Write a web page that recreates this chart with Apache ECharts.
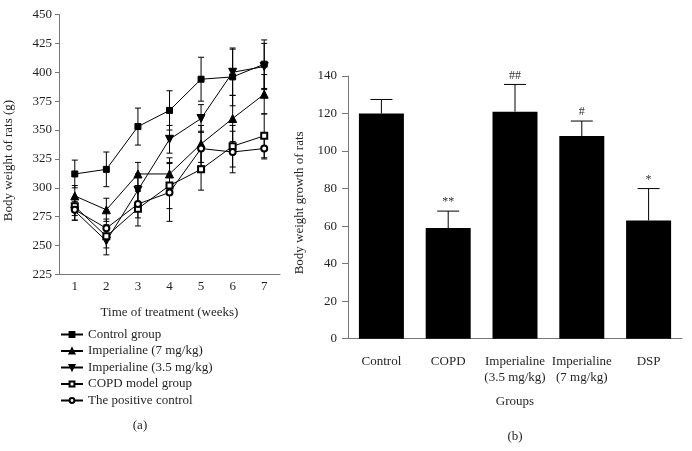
<!DOCTYPE html>
<html>
<head>
<meta charset="utf-8">
<script src="https://cdn.jsdelivr.net/npm/echarts@6/dist/echarts.min.js"></script>
<style>html,body{margin:0;padding:0;background:#fff}#c{width:692px;height:451px}</style>
</head>
<body>
<div id="c"></div>
<script>
// ---- Panel (a) data ----
const weeks = ['1', '2', '3', '4', '5', '6', '7'];
const seriesNames = ['Control group', 'Imperialine (7 mg/kg)', 'Imperialine (3.5 mg/kg)', 'COPD model group', 'The positive control'];
const controlMean = [312, 316, 353, 367, 394, 396, 407];
const controlSd   = [12, 15, 16, 17, 19, 25, 21];
const imp7Mean    = [293, 281, 312, 312, 338, 360, 381];
const imp7Sd      = [9, 10, 10, 14, 16, 20, 17];
const imp35Mean   = [280, 254, 298, 342, 360, 400, 405];
const imp35Sd     = [8, 12, 14, 12, 12, 20, 20];
const copdMean    = [284, 258, 282, 302, 316, 336, 345];
const copdSd      = [8, 10, 15, 20, 18, 18, 19];
const posMean     = [281, 265, 286, 296, 334, 331, 334];
const posSd       = [9, 8, 12, 25, 15, 18, 9];
const weightTicks = [225, 250, 275, 300, 325, 350, 375, 400, 425, 450];

// ---- Panel (b) data ----
const groups = ['Control', 'COPD', 'Imperialine\n(3.5 mg/kg)', 'Imperialine\n(7 mg/kg)', 'DSP'];
const growthMean = [120, 59, 121, 108, 63];
const growthSd   = [7.5, 9, 14.5, 8, 17];
const growthSig  = ['', '**', '##', '#', '*'];
const growthTicks = [0, 20, 40, 60, 80, 100, 120, 140];

const FONT = 'Liberation Serif';
const TXT = '#231f20';
const AX = '#777';

const means = [controlMean, imp7Mean, imp35Mean, copdMean, posMean];
const sds = [controlSd, imp7Sd, imp35Sd, copdSd, posSd];
const symbols = ['rect', 'triangle', 'path://M0,0L10,0L5,10Z', 'emptyRect', 'emptyCircle'];
const symSizes = [6, 8, 8, 6, 6];

function errRender(capHalf, topOnly) {
  return function (params, api) {
    const x = api.value(0), m = api.value(1), sd = api.value(2);
    const top = api.coord([x, m + sd]);
    const bot = topOnly ? api.coord([x, m]) : api.coord([x, m - sd]);
    const style = { stroke: '#000', lineWidth: 1 };
    const children = [
      { type: 'line', shape: { x1: top[0], y1: top[1], x2: bot[0], y2: bot[1] }, style: style },
      { type: 'line', shape: { x1: top[0] - capHalf, y1: top[1], x2: top[0] + capHalf, y2: top[1] }, style: style }
    ];
    if (!topOnly) children.push({ type: 'line', shape: { x1: bot[0] - capHalf, y1: bot[1], x2: bot[0] + capHalf, y2: bot[1] }, style: style });
    return { type: 'group', children: children };
  };
}

const series = [];
means.forEach((arr, k) => {
  series.push({
    type: 'custom', xAxisIndex: 0, yAxisIndex: 0, z: 1, silent: true,
    renderItem: errRender(3, false),
    encode: { x: 0, y: 1 },
    data: arr.map((v, i) => [i, v, sds[k][i]])
  });
});
means.forEach((arr, k) => {
  series.push({
    type: 'line', name: seriesNames[k], xAxisIndex: 0, yAxisIndex: 0, z: 3,
    data: arr, symbol: symbols[k], symbolSize: symSizes[k],
    showAllSymbol: true,
    lineStyle: { color: '#000', width: 1 },
    itemStyle: { color: '#000', borderColor: '#000', borderWidth: 1 }
  });
});
series.push({
  type: 'bar', xAxisIndex: 1, yAxisIndex: 1, data: growthMean, barWidth: 45,
  itemStyle: { color: '#000' }, z: 2
});
series.push({
  type: 'custom', xAxisIndex: 1, yAxisIndex: 1, z: 3, silent: true,
  renderItem: function (params, api) {
    const g = errRender(11, true)(params, api);
    const i = api.value(0);
    const top = api.coord([i, api.value(1) + api.value(2)]);
    g.children.push({ type: 'text', style: { text: growthSig[i], x: top[0], y: top[1] - 9, align: 'center', verticalAlign: 'middle', font: '12px "' + FONT + '"', fill: '#333' } });
    return g;
  },
  encode: { x: 0, y: 1 },
  data: growthMean.map((v, i) => [i, v, growthSd[i]])
});

const axisCommon = {
  axisLine: { lineStyle: { color: AX, width: 1 } },
  axisTick: { lineStyle: { color: AX } },
  splitLine: { show: false },
  nameTextStyle: { fontFamily: FONT, fontSize: 13, color: TXT }
};

const option = {
  animation: false,
  textStyle: { fontFamily: FONT },
  grid: [
    { left: 59, right: 412, top: 14.5, bottom: 176.5 },
    { left: 348, right: 10, top: 76, bottom: 112.3 }
  ],
  legend: {
    data: seriesNames, orient: 'vertical', left: 60, top: 328, padding: 0,
    itemWidth: 22, itemHeight: 6, itemGap: 3.5,
    textStyle: { fontFamily: FONT, fontSize: 13, color: TXT, lineHeight: 13 },
    selectedMode: false
  },
  xAxis: [
    Object.assign({}, axisCommon, {
      type: 'category', gridIndex: 0, data: weeks, boundaryGap: true,
      axisTick: { alignWithLabel: true, length: 5, lineStyle: { color: AX } },
      axisLabel: { fontFamily: FONT, fontSize: 13, color: TXT, margin: 6 },
      name: 'Time of treatment (weeks)', nameLocation: 'middle', nameGap: 32
    }),
    Object.assign({}, axisCommon, {
      type: 'category', gridIndex: 1, data: groups, boundaryGap: true,
      axisTick: { alignWithLabel: true, length: 7, lineStyle: { color: AX } },
      axisLabel: { fontFamily: FONT, fontSize: 13, color: TXT, margin: 15, lineHeight: 16, interval: 0 },
      name: 'Groups', nameLocation: 'middle', nameGap: 56
    })
  ],
  yAxis: [
    Object.assign({}, axisCommon, {
      type: 'value', gridIndex: 0, min: weightTicks[0], max: weightTicks[weightTicks.length - 1], interval: 25,
      axisLine: { show: true, lineStyle: { color: AX } },
      axisTick: { show: true, length: 4, lineStyle: { color: AX } },
      axisLabel: { fontFamily: FONT, fontSize: 13, color: TXT, margin: 7 },
      name: 'Body weight of rats (g)', nameLocation: 'middle', nameGap: 44,
      nameTextStyle: { fontFamily: FONT, fontSize: 13, color: TXT, padding: [0, 32, 0, 0] }
    }),
    Object.assign({}, axisCommon, {
      type: 'value', gridIndex: 1, min: growthTicks[0], max: growthTicks[growthTicks.length - 1], interval: 20,
      axisLine: { show: true, lineStyle: { color: AX } },
      axisTick: { show: true, length: 6, lineStyle: { color: AX } },
      axisLabel: { fontFamily: FONT, fontSize: 13, color: TXT, margin: 11 },
      name: 'Body weight growth of rats', nameLocation: 'middle', nameGap: 42,
      nameTextStyle: { fontFamily: FONT, fontSize: 13, color: TXT, padding: [0, 0, 0, 9] }
    })
  ],
  graphic: [
    { type: 'text', style: { text: '(a)', x: 140, y: 426, align: 'center', verticalAlign: 'middle', font: '13px "' + FONT + '"', fill: TXT } },
    { type: 'text', style: { text: '(b)', x: 515, y: 437, align: 'center', verticalAlign: 'middle', font: '13px "' + FONT + '"', fill: TXT } }
  ],
  series: series
};

const chart = echarts.init(document.getElementById('c'), null, { renderer: 'canvas' });
chart.setOption(option);
</script>
</body>
</html>
